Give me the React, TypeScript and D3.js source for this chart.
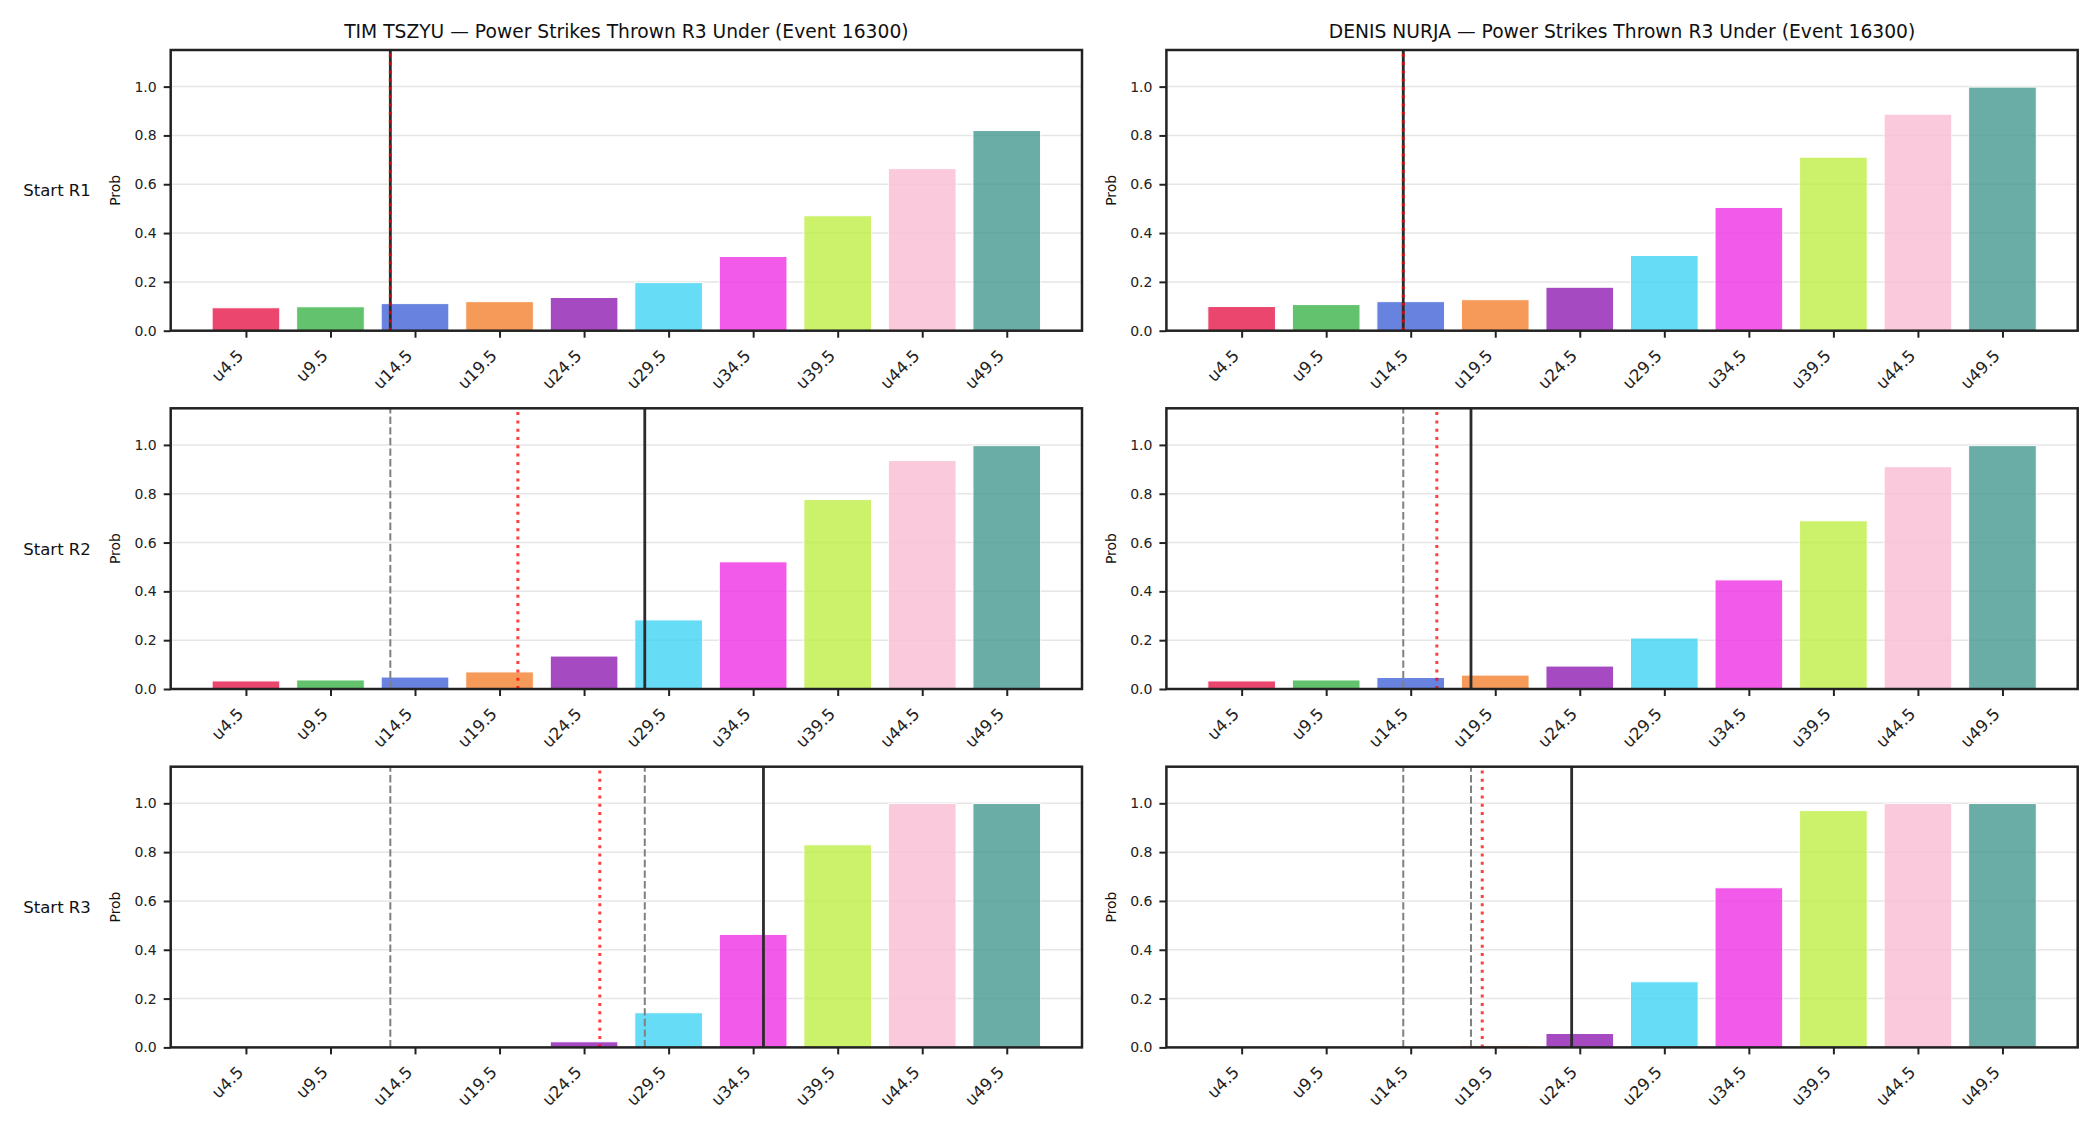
import React, { useRef, useEffect } from "react";
import * as d3 from "d3";

// bucket labels on the x axis
const categories = ["u4.5", "u9.5", "u14.5", "u19.5", "u24.5", "u29.5", "u34.5", "u39.5", "u44.5", "u49.5"];
const fighters = ["TIM TSZYU", "DENIS NURJA"];
const rounds = ["Start R1", "Start R2", "Start R3"];
const yTicks = [0, 0.2, 0.4, 0.6, 0.8, 1.0];

// probabilities per bucket
const timR1 = [0.094, 0.098, 0.111, 0.119, 0.136, 0.197, 0.304, 0.471, 0.664, 0.82];
const timR2 = [0.033, 0.037, 0.049, 0.07, 0.135, 0.283, 0.521, 0.776, 0.936, 0.997];
const timR3 = [0, 0, 0.002, 0.002, 0.023, 0.142, 0.463, 0.83, 0.999, 0.999];
const denisR1 = [0.099, 0.107, 0.119, 0.127, 0.178, 0.308, 0.505, 0.711, 0.887, 0.998];
const denisR2 = [0.033, 0.037, 0.047, 0.057, 0.094, 0.209, 0.447, 0.689, 0.911, 0.997];
const denisR3 = [0, 0, 0.001, 0.007, 0.057, 0.269, 0.654, 0.97, 0.999, 0.999];

// marker lines, in category-axis units (0 = u4.5 bar centre)
const timBlack = [1.708, 4.718, 6.122];
const timRed = [1.708, 3.217, 4.186];
const denisBlack = [1.912, 2.713, 3.904];
const denisRed = [1.912, 2.309, 2.846];

const palette = ["#e6194b", "#3cb44b", "#4363d8", "#f58231", "#911eb4", "#42d4f4", "#f032e6", "#bfef45", "#fabed4", "#469990"];

const App = () => {
  const svgRef = useRef<SVGSVGElement>(null);

  useEffect(() => {
    const svg = d3.select(svgRef.current);
    svg.selectAll("*").remove();

    const axesW = 911.3;
    const axesH = 280.7;
    const colLeft = [170.7, 1166.4];
    const rowTop = [50, 408.3, 766.7];

    const values = [
      [timR1, timR2, timR3],
      [denisR1, denisR2, denisR3],
    ];
    const blacks = [timBlack, denisBlack];
    const reds = [timRed, denisRed];

    const x = d3.scaleLinear().domain([-0.89, 9.89]).range([0, axesW]);
    const y = d3.scaleLinear().domain([0, 1.15]).range([axesH, 0]);

    fighters.forEach((name, c) => {
      rounds.forEach((round, r) => {
        const g = svg
          .append("g")
          .attr("transform", `translate(${colLeft[c]}, ${rowTop[r]})`);

        // grid
        g.selectAll(".grid")
          .data(yTicks)
          .enter()
          .append("line")
          .attr("x1", 0)
          .attr("x2", axesW)
          .attr("y1", (d) => y(d))
          .attr("y2", (d) => y(d))
          .attr("stroke", "#e6e6e6")
          .attr("stroke-width", 1.5);

        // bars
        g.selectAll(".bar")
          .data(values[c][r])
          .enter()
          .append("rect")
          .attr("x", (d, i) => x(i - 0.4))
          .attr("width", x(0.8) - x(0))
          .attr("y", (d) => y(d))
          .attr("height", (d) => y(0) - y(d))
          .attr("fill", (d, i) => palette[i])
          .attr("stroke", "#fff")
          .attr("stroke-width", 1)
          .attr("opacity", 0.8);

        // gray dashed: earlier rounds' black lines
        const grays = r === 0 ? [blacks[c][0]] : blacks[c].slice(0, r);
        grays.forEach((p) => {
          g.append("line")
            .attr("x1", x(p))
            .attr("x2", x(p))
            .attr("y1", axesH)
            .attr("y2", 0)
            .attr("stroke", "#808080")
            .attr("stroke-width", 2)
            .attr("stroke-dasharray", "7.4 3.2");
        });

        g.append("line")
          .attr("x1", x(blacks[c][r]))
          .attr("x2", x(blacks[c][r]))
          .attr("y1", axesH)
          .attr("y2", 0)
          .attr("stroke", "#2b2b2b")
          .attr("stroke-width", 2.8);

        g.append("line")
          .attr("x1", x(reds[c][r]))
          .attr("x2", x(reds[c][r]))
          .attr("y1", axesH)
          .attr("y2", 0)
          .attr("stroke", "red")
          .attr("stroke-opacity", 0.75)
          .attr("stroke-width", 3)
          .attr("stroke-dasharray", "3 5.3");

        // y axis
        const yAxis = g
          .append("g")
          .call(
            d3
              .axisLeft(y)
              .tickValues(yTicks)
              .tickSize(7)
              .tickPadding(7)
              .tickFormat(d3.format(".1f"))
          );
        yAxis.select(".domain").remove();
        yAxis
          .attr("font-family", "DejaVu Sans")
          .attr("font-size", 14)
          .attr("color", "#222");
        yAxis.selectAll("line").attr("stroke-width", 2);

        // x axis
        const xAxis = g
          .append("g")
          .attr("transform", `translate(0, ${axesH})`)
          .call(
            d3
              .axisBottom(x)
              .tickValues(d3.range(categories.length))
              .tickSize(7)
              .tickFormat((i) => categories[i as number])
          );
        xAxis.select(".domain").remove();
        xAxis
          .attr("font-family", "DejaVu Sans")
          .attr("font-size", 16.5)
          .attr("color", "#222");
        xAxis.selectAll("line").attr("stroke-width", 2);
        xAxis
          .selectAll("text")
          .attr("y", null)
          .attr("dy", null)
          .attr("text-anchor", "end")
          .attr("transform", "translate(-2, 26) rotate(-45)");

        // y label
        g.append("text")
          .attr("transform", `translate(${-50.5}, ${axesH / 2}) rotate(-90)`)
          .attr("text-anchor", "middle")
          .attr("font-family", "DejaVu Sans")
          .attr("font-size", 13.9)
          .attr("fill", "#111")
          .text("Prob");

        // spines
        g.append("rect")
          .attr("x", 0)
          .attr("y", 0)
          .attr("width", axesW)
          .attr("height", axesH)
          .attr("fill", "none")
          .attr("stroke", "#222")
          .attr("stroke-width", 2.5);

        if (r === 0) {
          g.append("text")
            .attr("x", axesW / 2)
            .attr("y", -11.7)
            .attr("text-anchor", "middle")
            .attr("font-family", "DejaVu Sans")
            .attr("font-size", 18.7)
            .attr("fill", "#111")
            .text(`${name} — Power Strikes Thrown R3 Under (Event 16300)`);
        }

        if (c === 0) {
          g.append("text")
            .attr("x", 23.3 - colLeft[0])
            .attr("y", axesH / 2 + 6)
            .attr("font-family", "DejaVu Sans")
            .attr("font-size", 16.5)
            .attr("fill", "#111")
            .text(round);
        }
      });
    });
  }, []);

  return (
    <svg
      ref={svgRef}
      width={2100}
      height={1125}
      style={{ position: "absolute", left: 0, top: 0, background: "#fff" }}
    ></svg>
  );
};

export default App;
